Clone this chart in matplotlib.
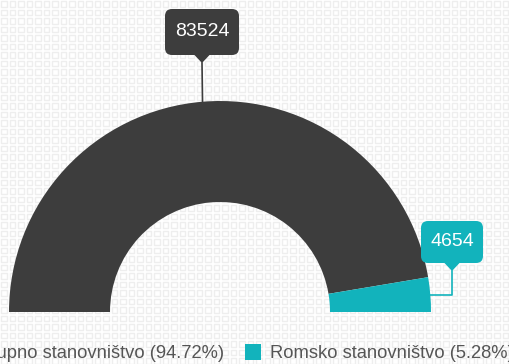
import numpy as np
import matplotlib
matplotlib.use("Agg")
import matplotlib.pyplot as plt
from matplotlib.patches import Wedge, FancyBboxPatch, Polygon, Patch

categories = ["Ukupno stanovništvo", "Romsko stanovništvo"]
values = [83524, 4654]
percent_labels = ["94.72%", "5.28%"]
colors = ["#3d3d3d", "#12b3bc"]

plt.rcParams['font.family'] = ['Liberation Sans', 'DejaVu Sans']

W, H = 510, 364
fig = plt.figure(figsize=(W / 100, H / 100), dpi=100)
ax = fig.add_axes([0, 0, 1, 1])
ax.set_xlim(0, W)
ax.set_ylim(0, H)
ax.axis('off')

# background pattern of faint squares
gx, gy = np.meshgrid(np.arange(4, W, 8.5), np.arange(H - 4, 0, -8.5))
ax.scatter(gx.ravel(), gy.ravel(), marker='s', s=14, facecolor='none',
           edgecolor='#eeeeee', linewidths=1.0, zorder=0)

cx, cy = 220, 52
r_out, r_in = 211, 110
total = sum(values)
start = 180.0
mids = []
for v, c in zip(values, colors):
    span = 180.0 * v / total
    w = Wedge((cx, cy), r_out, start - span, start, width=r_out - r_in,
              facecolor=c, edgecolor='none', zorder=2)
    ax.add_patch(w)
    mids.append(np.deg2rad(start - span / 2))
    start -= span

def label_box(xc, yc, w, h, text, color, tip_y):
    box = FancyBboxPatch((xc - w / 2, yc - h / 2), w, h,
                         boxstyle="round,pad=0,rounding_size=7",
                         facecolor=color, edgecolor='none', zorder=4)
    ax.add_patch(box)
    tri = Polygon([(xc - 8, yc - h / 2 + 0.5), (xc + 8, yc - h / 2 + 0.5), (xc, tip_y)],
                  closed=True, facecolor=color, edgecolor='none', zorder=4)
    ax.add_patch(tri)
    ax.text(xc, yc, text, color='white', fontsize=14, ha='center', va='center', zorder=5)

# label for first segment
m0 = mids[0]
px0, py0 = cx + r_out * np.cos(m0), cy + r_out * np.sin(m0)
bx0, by0 = 202, 332
label_box(bx0, by0, 74, 46, str(values[0]), colors[0], by0 - 31)
ax.plot([bx0, px0], [by0 - 31, py0], color=colors[0], lw=1.2, zorder=3)

# label for second segment
m1 = mids[1]
px1, py1 = cx + r_out * np.cos(m1), cy + r_out * np.sin(m1)
bx1, by1 = 452, 122
label_box(bx1, by1, 62, 42, str(values[1]), colors[1], by1 - 29)
ax.plot([bx1, bx1, px1], [by1 - 29, py1, py1], color=colors[1], lw=1.2, zorder=3)

labels = [f"{cat} ({p})" for cat, p in zip(categories, percent_labels)]
common = dict(frameon=False, bbox_transform=ax.transData, fontsize=13.2,
              handlelength=0.9, handleheight=0.95, handletextpad=0.45,
              borderpad=0, borderaxespad=0, labelcolor='#555555')
leg1 = ax.legend([Patch(facecolor=colors[0], edgecolor='none')], [labels[0]],
                 loc='center right', bbox_to_anchor=(224, 11), **common)
ax.add_artist(leg1)
leg2 = ax.legend([Patch(facecolor=colors[1], edgecolor='none')], [labels[1]],
                 loc='center left', bbox_to_anchor=(245, 11), **common)

fig.savefig("out.png", dpi=100, facecolor='white')
